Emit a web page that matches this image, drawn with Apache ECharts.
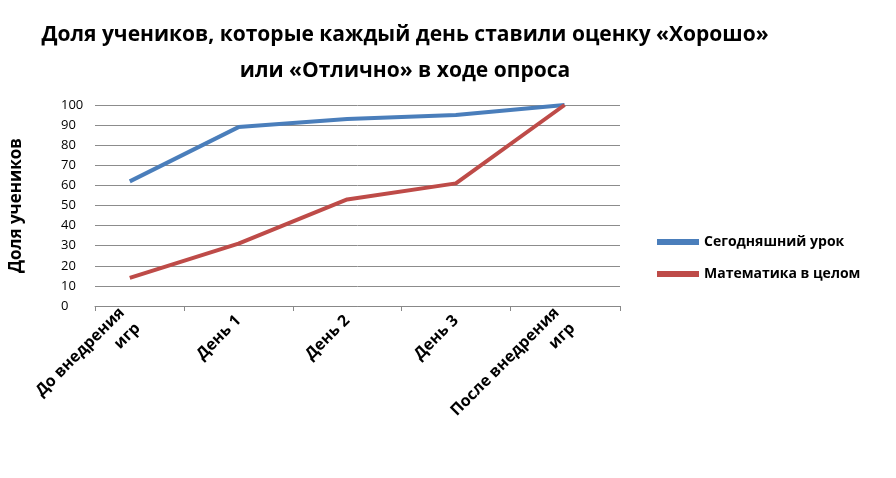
<!DOCTYPE html>
<html><head><meta charset="utf-8">
<script src="https://cdn.jsdelivr.net/npm/echarts@6/dist/echarts.min.js"></script>
<style>html,body{margin:0;padding:0;background:#fff}#c{width:896px;height:478px}</style>
</head><body><div id="c"></div>
<script>
const categories = ['До внедрения\nигр', 'День 1', 'День 2', 'День 3', 'После внедрения\nигр'];
const todayLesson = [62, 89, 93, 95, 100];
const mathOverall = [14, 31, 53, 61, 100];
const seriesNames = ['Сегодняшний урок', 'Математика в целом'];
const yTicks = [0,10,20,30,40,50,60,70,80,90,100];

const chart = echarts.init(document.getElementById('c'));
const font = '"Open Sans", "DejaVu Sans", sans-serif';
chart.setOption({
  animation: false,
  textStyle: {fontFamily: font},
  title: {
    text: 'Доля учеников, которые каждый день ставили оценку «Хорошо»\nили «Отлично» в ходе опроса',
    left: 400, top: 12, textAlign: 'center',
    textStyle: {fontSize: 21, fontWeight: 'bold', color: '#000', lineHeight: 36, fontFamily: font}
  },
  legend: {
    orient: 'vertical', left: 652, top: 230, itemGap: 18,
    itemWidth: 42, itemHeight: 6, icon: 'rect',
    data: seriesNames,
    textStyle: {fontSize: 14, fontWeight: 'bold', color: '#000'}
  },
  grid: {left: 95, right: 276, top: 105, bottom: 172},
  xAxis: {
    type: 'value', min: -0.32, max: 4.51,
    splitLine: {show: false},
    axisLine: {show: true, lineStyle: {color: '#888'}},
    axisTick: {show: true, customValues: [-0.32,0.5,1.5,2.5,3.5,4.51], lineStyle: {color: '#888'}},
    axisLabel: {
      customValues: [0,1,2,3,4], rotate: 45, fontSize: 16, fontWeight: 'bold', color: '#000',
      formatter: v => categories[Math.round(v)], lineHeight: 22, margin: 12
    }
  },
  yAxis: {
    type: 'value', min: 0, max: 100, interval: 10,
    name: 'Доля учеников', nameLocation: 'middle', nameGap: 70,
    nameTextStyle: {fontSize: 17, fontWeight: 'bold', color: '#000'},
    axisLine: {show: false}, axisTick: {show: false},
    axisLabel: {fontSize: 13, color: '#000', margin: 34, align: 'left'},
    splitLine: {lineStyle: {color: '#8c8c8c', width: 1}}
  },
  series: [
    {name: seriesNames[0], type: 'line', data: todayLesson.map((v,i)=>[i,v]), symbol: 'none',
     lineStyle: {width: 4, color: '#4a7ebb'}, itemStyle: {color: '#4a7ebb'}},
    {name: seriesNames[1], type: 'line', data: mathOverall.map((v,i)=>[i,v]), symbol: 'none',
     lineStyle: {width: 4, color: '#be4b48'}, itemStyle: {color: '#be4b48'}}
  ]
});
</script></body></html>
